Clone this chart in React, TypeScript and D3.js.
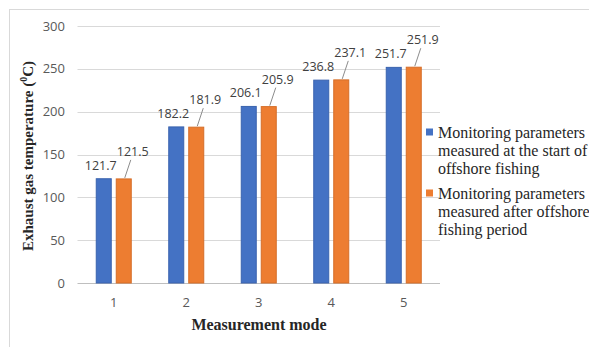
import React from "react";
import * as d3 from "d3";

const categories = ["1", "2", "3", "4", "5"];
const seriesNames = [
  ["Monitoring parameters", "measured at the start of", "offshore fishing"],
  ["Monitoring parameters", "measured after offshore", "fishing period"],
];
const startValues = [121.7, 182.2, 206.1, 236.8, 251.7];
const afterValues = [121.5, 181.9, 205.9, 237.1, 251.9];
const yTicks = [0, 50, 100, 150, 200, 250, 300];
const colors = ["#4472C4", "#ED7D31"];
const strokes = ["#3A63AE", "#D56E28"];

export default function App() {
  const W = 589, H = 347;
  const y = d3.scaleLinear().domain([0, 300]).range([283, 26]);
  const x = d3.scaleBand().domain(categories).range([77.5, 440]).paddingInner(0).paddingOuter(0);
  const sub = d3.scaleBand().domain(["a", "b"]).range([-17.5, 17.5]).paddingInner(0.25);
  const series = [startValues, afterValues];
  const labelFont = "'Open Sans', sans-serif";
  const serif = "'Liberation Serif', 'Times New Roman', serif";

  return (
    <svg width={W} height={H} style={{ position: "absolute", left: 0, top: 0 }}>
      <rect x={0} y={0} width={W} height={H} fill="#fff" />
      <rect x={9.5} y={9.5} width={700} height={500} fill="none" stroke="#d9d9d9" strokeWidth={1} />
      {yTicks.map((t) => (
        <g key={t}>
          <line x1={77.5} x2={440} y1={Math.round(y(t)) + 0.5} y2={Math.round(y(t)) + 0.5}
            stroke={t === 0 ? "#bfbfbf" : "#d9d9d9"} strokeWidth={1} />
          <text x={65} y={y(t)} dy="0.35em" textAnchor="end" fontFamily={labelFont} fontSize={13} fill="#595959">{t}</text>
        </g>
      ))}
      {categories.map((c, i) => {
        const cx = (x(c) as number) + x.bandwidth() / 2;
        return (
          <g key={c}>
            {series.map((vals, s) => {
              const bx = cx + (sub(s === 0 ? "a" : "b") as number);
              const top = y(vals[i]);
              return (
                <rect key={s} x={bx} y={top} width={sub.bandwidth()} height={y(0) - top}
                  fill={colors[s]} stroke={strokes[s]} strokeWidth={1} />
              );
            })}
            <text x={cx} y={302} dy="0.35em" textAnchor="middle" fontFamily={labelFont} fontSize={13} fill="#595959">{c}</text>
          </g>
        );
      })}
      {categories.map((c, i) => {
        const cx = (x(c) as number) + x.bandwidth() / 2;
        const bA = cx + (sub("a") as number) + sub.bandwidth() / 2;
        const bB = cx + (sub("b") as number) + sub.bandwidth() / 2;
        const tA = y(startValues[i]);
        const tB = y(afterValues[i]);
        return (
          <g key={"l" + c} fontFamily={labelFont} fontSize={12.5} fill="#404040">
            <text x={bA - 3} y={tA - 9} textAnchor="middle">{startValues[i]}</text>
            <line x1={bB + 1} y1={tB - 1} x2={bB + 7} y2={tB - 19} stroke="#8c8c8c" strokeWidth={1} />
            <text x={bB + 9} y={tB - 23} textAnchor="middle">{afterValues[i]}</text>
          </g>
        );
      })}
      <text x={259} y={330} textAnchor="middle" fontFamily={serif} fontWeight="bold" fontSize={16} fill="#262626">Measurement mode</text>
      <text transform="translate(33,156) rotate(-90)" textAnchor="middle" fontFamily={serif} fontWeight="bold" fontSize={15} fill="#262626">
        Exhaust gas temperature (<tspan fontSize={10} dy="-6">0</tspan><tspan dy="6">C)</tspan>
      </text>
      {seriesNames.map((lines, s) => (
        <g key={s}>
          <rect x={426} y={(s === 0 ? 132 : 193) - 3.5} width={7} height={7} fill={colors[s]} />
          {lines.map((ln, j) => (
            <text key={j} x={438} y={(s === 0 ? 132 : 193) + j * 18} dy="0.35em" fontFamily={serif} fontSize={16} fill="#262626">{ln}</text>
          ))}
        </g>
      ))}
    </svg>
  );
}
